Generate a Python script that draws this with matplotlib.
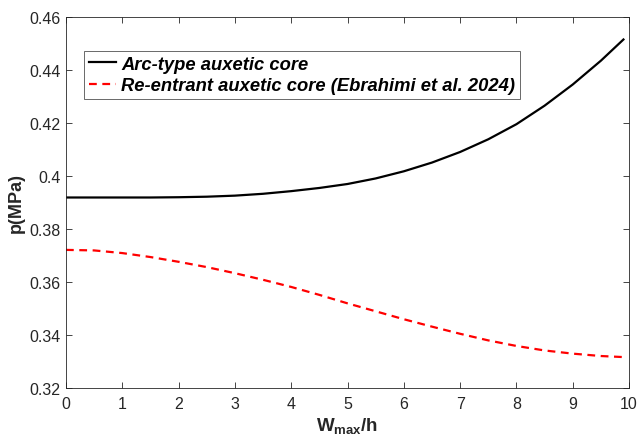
import numpy as np
import matplotlib
matplotlib.use("Agg")
import matplotlib.pyplot as plt

plt.rcParams['font.family'] = ['Liberation Sans', 'DejaVu Sans']
plt.rcParams['mathtext.fontset'] = 'custom'
plt.rcParams['mathtext.rm'] = 'Liberation Sans'
plt.rcParams['mathtext.bf'] = 'Liberation Sans:bold'

# Données
w_h = [0, 0.5, 1, 1.5, 2, 2.5, 3, 3.5, 4, 4.5, 5, 5.5, 6, 6.5, 7, 7.5,
       8, 8.5, 9, 9.5, 9.9]
p_arc = [0.3918, 0.3918, 0.3918, 0.3918, 0.3919, 0.3921, 0.3925, 0.3932,
         0.3942, 0.3954, 0.3969, 0.3990, 0.4017, 0.4050, 0.4090, 0.4138,
         0.4195, 0.4265, 0.4345, 0.4435, 0.4515]
p_reentrant = [0.3720, 0.3718, 0.3708, 0.3693, 0.3675, 0.3655, 0.3632,
               0.3607, 0.3580, 0.3550, 0.3518, 0.3488, 0.3458, 0.3430,
               0.3403, 0.3378, 0.3357, 0.3340, 0.3328, 0.3319, 0.3315]
xticks = np.arange(0, 11, 1)
yticks = [0.32, 0.34, 0.36, 0.38, 0.40, 0.42, 0.44, 0.46]
ytick_labels = ['0.32', '0.34', '0.36', '0.38', '0.4', '0.42', '0.44', '0.46']

gray = '#262626'

fig = plt.figure(figsize=(6.38, 4.39), dpi=100)
ax = fig.add_axes([0.1034, 0.115, 0.8826, 0.844])

ax.plot(w_h, p_arc, color='black', lw=1.6, label='Arc-type auxetic core')
ax.plot(w_h, p_reentrant, color='red', lw=1.6, ls=(0, (3.5, 2.5)),
        label='Re-entrant auxetic core (Ebrahimi et al. 2024)')

ax.set_xlim(0, 10)
ax.set_ylim(0.32, 0.46)
ax.set_xticks(xticks)
ax.set_yticks(yticks)
ax.set_yticklabels(ytick_labels)
ax.tick_params(direction='in', top=True, right=True, length=4, width=0.6,
               colors=gray, labelsize=11.5)
ax.tick_params(axis='x', pad=6)
ax.tick_params(axis='y', pad=4)
for s in ax.spines.values():
    s.set_color(gray)
    s.set_linewidth(0.6)

ax.set_xlabel(r'$\mathbf{W_{max}/h}$', fontsize=13.5, color=gray, labelpad=3)
ax.set_ylabel('p(MPa)', fontsize=13, fontweight='bold', color=gray, labelpad=3)

leg = ax.legend(loc='upper left', bbox_to_anchor=(0.0325, 0.908),
                prop={'weight': 'bold', 'style': 'italic', 'size': 13.2},
                frameon=True, fancybox=False, edgecolor=gray,
                handlelength=1.5, handletextpad=0.25, borderpad=0.25,
                borderaxespad=0, labelspacing=0.25)
leg.get_frame().set_linewidth(0.6)

plt.savefig('out.png', dpi=100)
